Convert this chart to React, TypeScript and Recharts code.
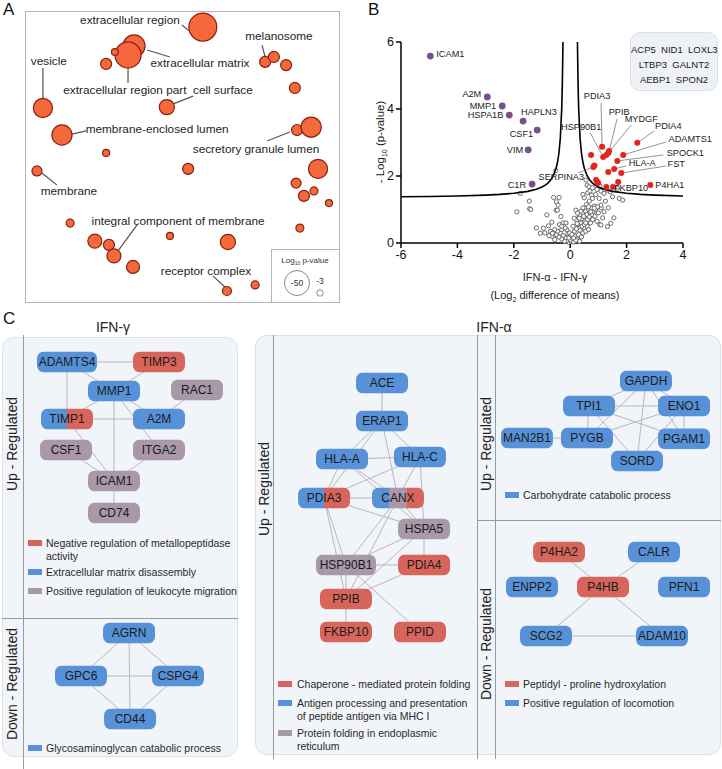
import { Scatter, ScatterChart, XAxis, YAxis, ZAxis } from "recharts";

const FONT = "Liberation Sans, Arial, sans-serif";

// ---------- Panel A: GO cellular component bubbles ----------
const bubbles = [
	{ term: "extracellular region", x: 56.5, y: 94.8, logP: -58 },
	{ term: "extracellular matrix", x: 34.5, y: 88.3, logP: -36 },
	{ term: "extracellular region part", x: 32.6, y: 85.2, logP: -50 },
	{ term: "", x: 28.4, y: 86.2, logP: -3.6 },
	{ term: "", x: 25.6, y: 82.1, logP: -9 },
	{ term: "vesicle", x: 5.4, y: 66.9, logP: -27 },
	{ term: "cell surface", x: 45.0, y: 67.2, logP: -17 },
	{ term: "membrane-enclosed lumen", x: 11.5, y: 57.6, logP: -30 },
	{ term: "", x: 25.6, y: 51.4, logP: -3.6 },
	{ term: "membrane", x: 3.5, y: 45.2, logP: -7.4 },
	{ term: "", x: 51.8, y: 45.9, logP: -9 },
	{ term: "melanosome", x: 76.4, y: 82.8, logP: -9 },
	{ term: "", x: 79.2, y: 84.5, logP: -9 },
	{ term: "", x: 83.1, y: 81.7, logP: -9 },
	{ term: "", x: 85.9, y: 73.8, logP: -9 },
	{ term: "", x: 86.6, y: 59.3, logP: -9 },
	{ term: "secretory granule lumen", x: 91.1, y: 60.3, logP: -30 },
	{ term: "", x: 93.3, y: 45.9, logP: -27 },
	{ term: "", x: 86.3, y: 41.0, logP: -7.4 },
	{ term: "", x: 88.8, y: 36.6, logP: -9 },
	{ term: "", x: 92.0, y: 38.3, logP: -4.7 },
	{ term: "", x: 96.8, y: 34.1, logP: -3.6 },
	{ term: "", x: 14.1, y: 27.2, logP: -4.7 },
	{ term: "", x: 46.0, y: 22.8, logP: -3.6 },
	{ term: "", x: 64.5, y: 20.7, logP: -17 },
	{ term: "", x: 87.5, y: 25.5, logP: -4.7 },
	{ term: "", x: 22.0, y: 21.0, logP: -14.5 },
	{ term: "", x: 26.5, y: 19.7, logP: -9 },
	{ term: "integral component of membrane", x: 28.1, y: 15.9, logP: -14.5 },
	{ term: "", x: 34.2, y: 12.1, logP: -12.5 },
	{ term: "", x: 73.2, y: 5.9, logP: -4.7 },
	{ term: "receptor complex", x: 64.2, y: 3.8, logP: -6 },
];

const goLabels = [
	{ term: "extracellular region", x: 33.2, y: 97.2 },
	{ term: "melanosome", x: 80.8, y: 91.7 },
	{ term: "vesicle", x: 7.3, y: 83.1 },
	{ term: "extracellular matrix", x: 55.6, y: 82.4 },
	{ term: "extracellular region part", x: 31.6, y: 73.1 },
	{ term: "cell surface", x: 62.9, y: 73.1 },
	{ term: "membrane-enclosed lumen", x: 41.9, y: 59.7 },
	{ term: "secretory granule lumen", x: 73.5, y: 52.8 },
	{ term: "membrane", x: 13.7, y: 38.3 },
	{ term: "integral component of membrane", x: 48.6, y: 27.9 },
	{ term: "receptor complex", x: 57.5, y: 10.7 },
];

const goLeaders = [
	[[49.8, 95.5], [53.0, 92.8]],
	[[75.4, 88.6], [76.4, 84.5]],
	[[5.4, 80.7], [5.4, 70.0]],
	[[38.7, 86.9], [46.0, 84.5]],
	[[32.6, 80.7], [32.6, 75.5]],
	[[53.4, 71.0], [47.0, 68.3]],
	[[14.7, 57.9], [19.2, 59.0]],
	[[77.0, 55.5], [84.3, 58.6]],
	[[5.1, 44.5], [9.9, 40.3]],
	[[35.5, 26.6], [29.4, 17.6]],
	[[59.7, 9.0], [64.2, 4.5]],
];

// ---------- Panel B: volcano ----------
const xTicks = [-6, -4, -2, 0, 2, 4];
const yTicks = [0, 2, 4, 6];

const gammaGenes = [
	{ gene: "ICAM1", x: -4.96, y: 5.58 },
	{ gene: "A2M", x: -2.94, y: 4.36 },
	{ gene: "MMP1", x: -2.41, y: 4.09 },
	{ gene: "HSPA1B", x: -2.16, y: 3.82 },
	{ gene: "HAPLN3", x: -1.67, y: 3.64 },
	{ gene: "CSF1", x: -1.17, y: 3.37 },
	{ gene: "VIM", x: -1.49, y: 2.78 },
	{ gene: "C1R", x: -1.35, y: 1.76 },
];

const alphaGenes = [
	{ gene: "PDIA3", x: 1.13, y: 2.87 },
	{ gene: "HSP90B1", x: 1.17, y: 2.57 },
	{ gene: "", x: 1.28, y: 2.63 },
	{ gene: "MYDGF", x: 1.35, y: 2.69 },
	{ gene: "PPIB", x: 1.38, y: 2.75 },
	{ gene: "PDIA4", x: 2.38, y: 2.99 },
	{ gene: "ADAMTS1", x: 1.88, y: 2.63 },
	{ gene: "SPOCK1", x: 1.67, y: 2.45 },
	{ gene: "HLA-A", x: 1.56, y: 2.21 },
	{ gene: "FST", x: 1.81, y: 2.09 },
	{ gene: "", x: 1.35, y: 2.12 },
	{ gene: "", x: 0.74, y: 2.63 },
	{ gene: "SERPINA3", x: 0.82, y: 2.27 },
	{ gene: "", x: 0.86, y: 2.31 },
	{ gene: "", x: 0.92, y: 1.88 },
	{ gene: "", x: 0.96, y: 1.82 },
	{ gene: "", x: 0.99, y: 1.79 },
	{ gene: "", x: 1.7, y: 1.82 },
	{ gene: "", x: 1.28, y: 1.67 },
	{ gene: "FKBP10", x: 1.52, y: 1.67 },
	{ gene: "P4HA1", x: 2.84, y: 1.73 },
];

const otherGenes = [
	[-0.05, 0.02], [0.02, 0.05], [0.08, 0.1], [-0.1, 0.08], [0.12, 0.03], [-0.15, 0.15],
	[0.18, 0.2], [-0.2, 0.05], [0.25, 0.12], [0.3, 0.25], [-0.25, 0.22], [-0.3, 0.12],
	[0.05, 0.18], [-0.08, 0.28], [0.15, 0.35], [0.22, 0.42], [0.35, 0.38], [0.4, 0.18],
	[0.45, 0.3], [0.5, 0.45], [-0.35, 0.3], [-0.4, 0.18], [-0.45, 0.35], [-0.5, 0.25],
	[-0.55, 0.4], [-0.6, 0.3], [-0.65, 0.2], [-0.7, 0.35], [0.1, 0.5], [0.28, 0.55],
	[0.38, 0.6], [0.42, 0.5], [0.55, 0.35], [0.6, 0.5], [0.65, 0.4], [-0.12, 0.4],
	[-0.02, 0.3], [0.0, 0.1], [0.06, 0.25], [0.33, 0.05], [-0.3, 0.4], [-0.18, 0.45],
	[0.2, 0.08], [-0.05, 0.15], [0.12, 0.15], [0.22, 0.68], [0.3, 0.75], [0.35, 0.85],
	[0.4, 0.72], [0.45, 0.9], [0.48, 0.8], [0.52, 0.65], [0.55, 0.95], [0.6, 0.85],
	[0.62, 0.7], [0.65, 1.0], [0.68, 0.78], [0.7, 0.92], [0.72, 0.6], [0.75, 1.05],
	[0.78, 0.85], [0.8, 0.7], [0.82, 0.95], [0.85, 1.1], [0.88, 0.8], [0.9, 1.0],
	[0.95, 0.65], [1.0, 0.9], [1.05, 0.55], [1.1, 1.05], [1.15, 0.75], [0.58, 1.15],
	[0.45, 1.05], [0.38, 0.95], [0.25, 0.58], [0.14, 0.74], [0.2, 0.98], [0.26, 0.89],
	[0.32, 0.74], [0.5, 0.55], [0.55, 0.6], [0.56, 1.88], [0.6, 1.73], [0.67, 1.68],
	[0.79, 1.65], [0.76, 1.43], [0.79, 1.33], [1.09, 1.55], [1.2, 1.48], [1.32, 1.58],
	[1.42, 1.53], [1.68, 1.63], [1.74, 1.33], [1.86, 1.28], [1.09, 1.13], [0.97, 1.08],
	[1.2, 0.93], [0.85, 1.04], [0.73, 0.93], [1.44, 0.59], [1.32, 0.49], [1.09, 0.54],
	[0.65, 1.08], [1.03, 1.33], [0.62, 1.5], [0.7, 1.55], [0.9, 1.45], [1.5, 1.38],
	[1.25, 1.25], [0.68, 1.25], [0.5, 1.35], [1.05, 1.7], [0.95, 1.6], [0.45, 1.45],
	[1.35, 1.05], [1.55, 0.75], [-1.77, 1.48], [-1.45, 1.25], [-1.89, 0.93], [-1.44, 1.02],
	[-1.4, 1.0], [-0.51, 2.16], [-0.59, 1.36], [-0.39, 1.36], [-0.49, 1.23], [-0.43, 1.13],
	[-0.5, 0.98], [-0.45, 0.98], [-0.33, 0.79], [-0.83, 0.84], [-0.77, 0.51], [-0.95, 0.44],
	[-1.06, 0.29], [-0.63, 0.29], [-0.9, 0.3], [-0.75, 0.22], [-0.55, 0.1], [-0.38, 0.55],
	[-0.25, 0.6], [-0.3, 0.5], [-1.2, 0.45], [-0.15, 0.6], [-0.65, 0.62],
];

// significance threshold curves
const leftCurve = [
	[-6, 1.38], [-5, 1.39], [-4, 1.405], [-3, 1.43], [-2.5, 1.451], [-2, 1.483],
	[-1.5, 1.541], [-1.2, 1.603], [-1, 1.67], [-0.9, 1.718], [-0.8, 1.782], [-0.7, 1.872],
	[-0.6, 2.007], [-0.5, 2.231], [-0.45, 2.41], [-0.4, 2.679], [-0.35, 3.127],
	[-0.3, 4.024], [-0.28, 4.696], [-0.26, 5.817], [-0.258, 6.0],
];
const rightCurve = [
	[0.258, 6.0], [0.26, 5.817], [0.28, 4.696], [0.3, 4.024], [0.35, 3.127], [0.4, 2.679],
	[0.45, 2.41], [0.5, 2.231], [0.6, 2.007], [0.7, 1.872], [0.8, 1.782], [0.9, 1.718],
	[1, 1.67], [1.2, 1.603], [1.5, 1.541], [2, 1.483], [2.5, 1.451], [3, 1.43],
	[4, 1.405],
];

const bothGenes = ["ACP5  NID1  LOXL3", "LTBP3  GALNT2", "AEBP1  SPON2"];

// ---------- Panel C: networks ----------
const termColors: Record<string, string> = {
	nrm: "#d8655b",
	ecm: "#5792d8",
	leuko: "#a898a9",
	gag: "#5792d8",
	chap: "#d8655b",
	mhc: "#5792d8",
	erfold: "#a898a9",
	carb: "#5792d8",
	pro: "#d8655b",
	loco: "#5792d8",
};

const gammaUpNodes = [
	{ id: "ADAMTS4", x: 9.28, y: 6.4, terms: ["ecm"] },
	{ id: "TIMP3", x: 22.02, y: 6.4, terms: ["nrm"] },
	{ id: "MMP1", x: 15.79, y: 13.27, terms: ["ecm"] },
	{ id: "RAC1", x: 27.29, y: 13.03, terms: ["leuko"] },
	{ id: "TIMP1", x: 9.28, y: 19.91, terms: ["ecm", "nrm"] },
	{ id: "A2M", x: 22.02, y: 19.91, terms: ["ecm"] },
	{ id: "CSF1", x: 9.14, y: 27.25, terms: ["leuko"] },
	{ id: "ITGA2", x: 22.02, y: 27.25, terms: ["leuko"] },
	{ id: "ICAM1", x: 15.79, y: 34.6, terms: ["leuko"] },
	{ id: "CD74", x: 15.79, y: 42.18, terms: ["leuko"] },
];
const gammaDownNodes = [
	{ id: "AGRN", x: 17.87, y: 70.62, terms: ["gag"] },
	{ id: "GPC6", x: 11.22, y: 80.81, terms: ["gag"] },
	{ id: "CSPG4", x: 24.65, y: 80.81, terms: ["gag"] },
	{ id: "CD44", x: 18.01, y: 91.0, terms: ["gag"] },
];
const alphaUpNodes = [
	{ id: "ACE", x: 52.91, y: 11.37, terms: ["mhc"] },
	{ id: "ERAP1", x: 52.91, y: 20.38, terms: ["mhc"] },
	{ id: "HLA-A", x: 47.37, y: 29.38, terms: ["mhc"] },
	{ id: "HLA-C", x: 58.17, y: 28.91, terms: ["mhc"] },
	{ id: "PDIA3", x: 44.88, y: 38.63, terms: ["mhc", "chap"] },
	{ id: "CANX", x: 55.12, y: 38.63, terms: ["mhc", "erfold", "chap"] },
	{ id: "HSPA5", x: 58.73, y: 45.97, terms: ["erfold"] },
	{ id: "HSP90B1", x: 47.92, y: 54.5, terms: ["erfold"] },
	{ id: "PDIA4", x: 58.73, y: 54.5, terms: ["chap"] },
	{ id: "PPIB", x: 47.92, y: 62.56, terms: ["chap"] },
	{ id: "FKBP10", x: 47.92, y: 70.38, terms: ["chap"] },
	{ id: "PPID", x: 58.17, y: 70.38, terms: ["chap"] },
];
const alphaUp2Nodes = [
	{ id: "GAPDH", x: 89.47, y: 10.9, terms: ["carb"] },
	{ id: "TPI1", x: 81.58, y: 16.82, terms: ["carb"] },
	{ id: "ENO1", x: 94.74, y: 16.82, terms: ["carb"] },
	{ id: "MAN2B1", x: 72.99, y: 24.41, terms: ["carb"] },
	{ id: "PYGB", x: 81.3, y: 24.41, terms: ["carb"] },
	{ id: "PGAM1", x: 94.74, y: 24.6, terms: ["carb"] },
	{ id: "SORD", x: 88.23, y: 29.86, terms: ["carb"] },
];
const alphaDownNodes = [
	{ id: "P4HA2", x: 77.42, y: 51.42, terms: ["pro"] },
	{ id: "CALR", x: 90.58, y: 51.42, terms: ["loco"] },
	{ id: "ENPP2", x: 73.68, y: 59.72, terms: ["loco"] },
	{ id: "P4HB", x: 83.52, y: 59.72, terms: ["pro"] },
	{ id: "PFN1", x: 94.74, y: 59.72, terms: ["loco"] },
	{ id: "SCG2", x: 75.62, y: 71.33, terms: ["loco"] },
	{ id: "ADAM10", x: 91.69, y: 71.33, terms: ["loco"] },
];

const edges = [
	["ADAMTS4", "TIMP3"], ["ADAMTS4", "MMP1"], ["ADAMTS4", "TIMP1"], ["TIMP3", "MMP1"],
	["MMP1", "TIMP1"], ["MMP1", "A2M"], ["MMP1", "ICAM1"], ["MMP1", "ITGA2"],
	["RAC1", "A2M"], ["TIMP1", "A2M"], ["TIMP1", "ICAM1"], ["CSF1", "ICAM1"],
	["ITGA2", "ICAM1"], ["ICAM1", "CD74"],
	["AGRN", "GPC6"], ["AGRN", "CSPG4"], ["AGRN", "CD44"], ["GPC6", "CSPG4"],
	["GPC6", "CD44"], ["CSPG4", "CD44"],
	["ACE", "ERAP1"], ["ERAP1", "HLA-A"], ["ERAP1", "HLA-C"], ["ERAP1", "CANX"],
	["ERAP1", "PDIA3"], ["HLA-A", "HLA-C"], ["HLA-A", "PDIA3"], ["HLA-A", "CANX"],
	["HLA-A", "HSPA5"], ["HLA-C", "PDIA3"], ["HLA-C", "CANX"], ["HLA-C", "HSPA5"],
	["PDIA3", "CANX"], ["PDIA3", "HSPA5"], ["PDIA3", "HSP90B1"], ["PDIA3", "PPIB"],
	["CANX", "HSPA5"], ["CANX", "HSP90B1"], ["CANX", "PPIB"], ["HSPA5", "HSP90B1"],
	["HSPA5", "PDIA4"], ["HSPA5", "PPIB"], ["HSP90B1", "PDIA4"], ["HSP90B1", "PPIB"],
	["HSP90B1", "PPID"], ["PDIA4", "PPIB"], ["PPIB", "FKBP10"],
	["GAPDH", "TPI1"], ["GAPDH", "ENO1"], ["GAPDH", "PYGB"], ["GAPDH", "PGAM1"],
	["GAPDH", "SORD"], ["TPI1", "ENO1"], ["TPI1", "PYGB"], ["TPI1", "PGAM1"],
	["TPI1", "SORD"], ["ENO1", "PYGB"], ["ENO1", "PGAM1"], ["ENO1", "SORD"],
	["PYGB", "MAN2B1"],
	["P4HA2", "P4HB"], ["CALR", "P4HB"], ["P4HB", "SCG2"], ["P4HB", "ADAM10"],
	["SCG2", "ADAM10"],
];

const legends = [
	{ left: 28, y: 543, term: "nrm", text: ["Negative regulation of metallopeptidase", "activity"] },
	{ left: 28, y: 572, term: "ecm", text: ["Extracellular matrix disassembly"] },
	{ left: 28, y: 591, term: "leuko", text: ["Positive regulation of leukocyte migration"] },
	{ left: 28, y: 748, term: "gag", text: ["Glycosaminoglycan catabolic process"] },
	{ left: 278, y: 684, term: "chap", text: ["Chaperone - mediated protein folding"] },
	{ left: 278, y: 703, term: "mhc", text: ["Antigen processing and presentation", "of peptide antigen via MHC I"] },
	{ left: 278, y: 733, term: "erfold", text: ["Protein folding in endoplasmic", "reticulum"] },
	{ left: 505, y: 495, term: "carb", text: ["Carbohydrate catabolic process"] },
	{ left: 505, y: 684, term: "pro", text: ["Peptidyl - proline hydroxylation"] },
	{ left: 505, y: 703, term: "loco", text: ["Positive regulation of locomotion"] },
];

// label placement for panel B (pixel offsets from the point)
const pointLabels: Record<string, { dx: number; dy: number; anchor: string; line?: number[] }> = {
	ICAM1: { dx: 6, dy: -2, anchor: "start" },
	A2M: { dx: -6, dy: -3, anchor: "end" },
	MMP1: { dx: -6, dy: 0, anchor: "end" },
	HSPA1B: { dx: -6, dy: 0, anchor: "end" },
	HAPLN3: { dx: -2, dy: -9, anchor: "start" },
	CSF1: { dx: -4, dy: 4, anchor: "end" },
	VIM: { dx: -5, dy: 0, anchor: "end" },
	C1R: { dx: -6, dy: 1, anchor: "end" },
	PDIA3: { dx: -5, dy: -51, anchor: "middle", line: [-1, -44] },
	PPIB: { dx: 10, dy: -39, anchor: "middle", line: [8, -32] },
	MYDGF: { dx: 33, dy: -34, anchor: "middle", line: [23, -28] },
	HSP90B1: { dx: -22, dy: -30, anchor: "middle", line: [-13, -24] },
	PDIA4: { dx: 31, dy: -17, anchor: "middle", line: [17, -12] },
	ADAMTS1: { dx: 67, dy: -16, anchor: "middle", line: [43, -13] },
	SPOCK1: { dx: 68, dy: -8, anchor: "middle", line: [46, -6] },
	"HLA-A": { dx: 28, dy: -6, anchor: "middle", line: [12, -3] },
	FST: { dx: 55, dy: -9, anchor: "middle", line: [45, -7] },
	FKBP10: { dx: 18, dy: 1, anchor: "middle" },
	P4HA1: { dx: 5, dy: 0, anchor: "start" },
	SERPINA3: { dx: -32, dy: 10, anchor: "middle", line: [-15, 6] },
};

const noShape = () => <g />;

const BubbleShape = (props: any) => {
	const r = Math.sqrt((props.size || 0) / Math.PI);
	return <circle cx={props.cx} cy={props.cy} r={r} fill="#f4683c" stroke="#8a200f" strokeWidth={1.2} />;
};

const GoLabelShape = (props: any) => (
	<text x={props.cx} y={props.cy} dy="0.35em" textAnchor="middle" fontSize={11.8} fill="#1e1e1e" fontFamily={FONT}>
		{props.payload.term}
	</text>
);

const makePointShape = (fill: string, r: number) => (props: any) => {
	const { cx, cy, payload } = props;
	const st = pointLabels[payload.gene];
	return (
		<g>
			{st && st.line && (
				<line x1={cx + st.line[0]} y1={cy + st.line[1]} x2={cx} y2={cy} stroke="#666" strokeWidth={0.7} />
			)}
			<circle cx={cx} cy={cy} r={r} fill={fill} />
			{st && (
				<text x={cx + st.dx} y={cy + st.dy} dy="0.35em" textAnchor={st.anchor} fontSize={9.2} fill="#222" fontFamily={FONT}>
					{payload.gene}
				</text>
			)}
		</g>
	);
};

const GreyShape = (props: any) => (
	<circle cx={props.cx} cy={props.cy} r={2.1} fill="#ffffff" stroke="#5c5c5c" strokeWidth={0.9} />
);

const NodeShape = (props: any) => {
	const { cx, cy, payload } = props;
	const w = payload.id.length >= 7 ? 60 : 52;
	const h = 21;
	const clipId = "clip-" + payload.id;
	const n = payload.terms.length;
	return (
		<g>
			<defs>
				<clipPath id={clipId}>
					<rect x={cx - w / 2} y={cy - h / 2} width={w} height={h} rx={7} />
				</clipPath>
			</defs>
			<g clipPath={`url(#${clipId})`}>
				{payload.terms.map((t: string, i: number) => (
					<rect key={i} x={cx - w / 2 + (i * w) / n} y={cy - h / 2} width={w / n + 0.5} height={h} fill={termColors[t]} />
				))}
			</g>
			<text x={cx} y={cy} dy="0.36em" textAnchor="middle" fontSize={12} fill="#1a1a1a" fontFamily={FONT}>
				{payload.id}
			</text>
		</g>
	);
};

const abs = (left: number, top: number, extra: any = {}) => ({ position: "absolute" as const, left, top, ...extra });

function RotLabel({ x, y, text, size = 14 }: { x: number; y: number; text: string; size?: number }) {
	return (
		<div
			style={abs(x, y, {
				transform: "translate(-50%, -50%) rotate(-90deg)",
				whiteSpace: "nowrap",
				fontSize: size,
				color: "#222",
				lineHeight: 1,
			})}
		>
			{text}
		</div>
	);
}

export default function App() {
	const bubbleData = bubbles.map((b) => ({ ...b, z: -b.logP }));
	const allNodes = [...gammaUpNodes, ...gammaDownNodes, ...alphaUpNodes, ...alphaUp2Nodes, ...alphaDownNodes];
	const nodeById: Record<string, any> = {};
	allNodes.forEach((n) => (nodeById[n.id] = n));
	const grey = otherGenes.map(([x, y]) => ({ x, y }));
	const lc = leftCurve.map(([x, y]) => ({ x, y }));
	const rc = rightCurve.map(([x, y]) => ({ x, y }));
	const letter = { fontSize: 17, lineHeight: "17px", color: "#111" };

	return (
		<div style={abs(0, 0, { width: 722, height: 769, background: "#fff", fontFamily: FONT, overflow: "hidden" })}>
			{/* panel letters */}
			<div style={abs(3, 1, letter)}>A</div>
			<div style={abs(368, 1, letter)}>B</div>
			<div style={abs(3, 310, letter)}>C</div>

			{/* ---------- Panel A ---------- */}
			<div style={abs(25, 11, { width: 315, height: 292, border: "1.5px solid #b5b5b5", boxSizing: "border-box" })} />
			<div style={abs(26, 12)}>
				<ScatterChart width={313} height={290} margin={{ top: 0, right: 0, bottom: 0, left: 0 }}>
					<XAxis type="number" dataKey="x" domain={[0, 100]} hide />
					<YAxis type="number" dataKey="y" domain={[0, 100]} hide />
					<ZAxis type="number" dataKey="z" domain={[0, 60]} range={[0, 637]} />
					{goLeaders.map((seg, i) => (
						<Scatter
							key={"ld" + i}
							data={seg.map(([x, y]) => ({ x, y }))}
							line={{ stroke: "#555", strokeWidth: 1.2 }}
							shape={noShape}
							isAnimationActive={false}
						/>
					))}
					<Scatter data={bubbleData} shape={BubbleShape} isAnimationActive={false} />
					<Scatter data={goLabels} shape={GoLabelShape} isAnimationActive={false} />
				</ScatterChart>
			</div>
			<div
				style={abs(271, 249, {
					width: 68,
					height: 53,
					borderLeft: "1.5px solid #b5b5b5",
					borderTop: "1.5px solid #b5b5b5",
					background: "#fff",
					boxSizing: "border-box",
				})}
			>
				<svg width={68} height={53}>
					<text x={33} y={13} textAnchor="middle" fontSize={8} fill="#333" fontFamily={FONT}>
						Log<tspan fontSize={5} dy={2}>10</tspan>
						<tspan dy={-2}> p-value</tspan>
					</text>
					<circle cx={25} cy={33} r={12.5} fill="none" stroke="#888" strokeWidth={1} />
					<text x={25} y={33} dy="0.35em" textAnchor="middle" fontSize={8.5} fill="#333" fontFamily={FONT}>
						-50
					</text>
					<text x={48} y={31} dy="0.35em" textAnchor="middle" fontSize={8.5} fill="#333" fontFamily={FONT}>
						-3
					</text>
					<circle cx={48} cy={43} r={3.2} fill="none" stroke="#888" strokeWidth={1} />
				</svg>
			</div>

			{/* ---------- Panel B ---------- */}
			<div style={abs(365, 0)}>
				<ScatterChart width={357} height={300} margin={{ top: 42, right: 39, bottom: 27, left: 10 }}>
					<XAxis
						type="number"
						dataKey="x"
						domain={[-6, 4]}
						ticks={xTicks}
						height={30}
						tickSize={5}
						axisLine={{ stroke: "#000", strokeWidth: 1.5 }}
						tickLine={{ stroke: "#000", strokeWidth: 1.5 }}
						tick={{ fontSize: 12.5, fill: "#111", fontFamily: FONT }}
					/>
					<YAxis
						type="number"
						dataKey="y"
						domain={[0, 6]}
						ticks={yTicks}
						width={26}
						tickSize={5}
						axisLine={{ stroke: "#000", strokeWidth: 1.5 }}
						tickLine={{ stroke: "#000", strokeWidth: 1.5 }}
						tick={{ fontSize: 12.5, fill: "#111", fontFamily: FONT }}
					/>
					<Scatter data={grey} shape={GreyShape} isAnimationActive={false} />
					<Scatter data={lc} line={{ stroke: "#000", strokeWidth: 1.6 }} shape={noShape} isAnimationActive={false} />
					<Scatter data={rc} line={{ stroke: "#000", strokeWidth: 1.6 }} shape={noShape} isAnimationActive={false} />
					<Scatter data={alphaGenes} shape={makePointShape("#e3241c", 3)} isAnimationActive={false} />
					<Scatter data={gammaGenes} shape={makePointShape("#76508a", 3.4)} isAnimationActive={false} />
				</ScatterChart>
			</div>
			<div style={abs(555, 271, { transform: "translateX(-50%)", whiteSpace: "nowrap", fontSize: 11, color: "#222" })}>
				IFN-α - IFN-γ
			</div>
			<div style={abs(555, 289, { transform: "translateX(-50%)", whiteSpace: "nowrap", fontSize: 11, color: "#222" })}>
				(Log<sub style={{ fontSize: 7 }}>2</sub> difference of means)
			</div>
			<div
				style={abs(381, 142, {
					transform: "translate(-50%, -50%) rotate(-90deg)",
					whiteSpace: "nowrap",
					fontSize: 11.5,
					color: "#222",
				})}
			>
				- Log<sub style={{ fontSize: 7 }}>10</sub> (p-value)
			</div>
			<div
				style={abs(630, 32, {
					width: 88,
					height: 59,
					background: "#eef1f6",
					border: "1px solid #dbe0e7",
					borderRadius: 10,
					boxSizing: "border-box",
					paddingTop: 9,
					textAlign: "center",
					fontSize: 9.5,
					lineHeight: "15px",
					color: "#222",
					whiteSpace: "pre",
				})}
			>
				{bothGenes.map((g) => (
					<div key={g}>{g}</div>
				))}
			</div>

			{/* ---------- Panel C frames ---------- */}
			<div style={abs(113, 327, { transform: "translate(-50%, -50%)", fontSize: 14, color: "#222" })}>IFN-γ</div>
			<div style={abs(494, 327, { transform: "translate(-50%, -50%)", fontSize: 14, color: "#222" })}>IFN-α</div>
			<div
				style={abs(2, 337, {
					width: 236,
					height: 420,
					background: "#f1f4f8",
					border: "1px solid #dde2e8",
					borderRadius: 12,
					boxSizing: "border-box",
				})}
			/>
			<div
				style={abs(255, 335, {
					width: 466,
					height: 420,
					background: "#f1f4f8",
					border: "1px solid #dde2e8",
					borderRadius: 12,
					boxSizing: "border-box",
				})}
			/>
			<div style={abs(23, 335, { width: 1, height: 434, background: "#9a9a9a" })} />
			<div style={abs(2, 618, { width: 236, height: 1, background: "#9a9a9a" })} />
			<div style={abs(273, 335, { width: 1, height: 424, background: "#9a9a9a" })} />
			<div style={abs(477, 335, { width: 1, height: 424, background: "#9a9a9a" })} />
			<div style={abs(495, 335, { width: 1, height: 424, background: "#9a9a9a" })} />
			<div style={abs(477, 520, { width: 244, height: 1, background: "#9a9a9a" })} />
			<RotLabel x={12} y={444} text="Up - Regulated" />
			<RotLabel x={12} y={684} text="Down - Regulated" />
			<RotLabel x={264} y={489} text="Up - Regulated" />
			<RotLabel x={486} y={444} text="Up - Regulated" />
			<RotLabel x={486} y={644} text="Down - Regulated" />

			{legends.map((l) => (
				<div key={l.term} style={abs(l.left, l.y - 6.5, { fontSize: 10.5, lineHeight: "13px", color: "#2a2a2a" })}>
					<div style={abs(0, 3.5, { width: 14, height: 6, background: termColors[l.term] })} />
					<div style={{ marginLeft: l.left === 278 ? 19 : 18, whiteSpace: "nowrap" }}>
						{l.text.map((t) => (
							<div key={t}>{t}</div>
						))}
					</div>
				</div>
			))}

			{/* ---------- Panel C networks ---------- */}
			<div style={abs(0, 335)}>
				<ScatterChart width={722} height={422} margin={{ top: 0, right: 0, bottom: 0, left: 0 }}>
					<XAxis type="number" dataKey="x" domain={[0, 100]} hide />
					<YAxis type="number" dataKey="y" domain={[0, 100]} reversed hide />
					{edges.map(([a, b]) => (
						<Scatter
							key={a + "-" + b}
							data={[nodeById[a], nodeById[b]]}
							line={{ stroke: "#a9a9a9", strokeWidth: 0.8 }}
							shape={noShape}
							isAnimationActive={false}
						/>
					))}
					<Scatter data={allNodes} shape={NodeShape} isAnimationActive={false} />
				</ScatterChart>
			</div>
		</div>
	);
}
